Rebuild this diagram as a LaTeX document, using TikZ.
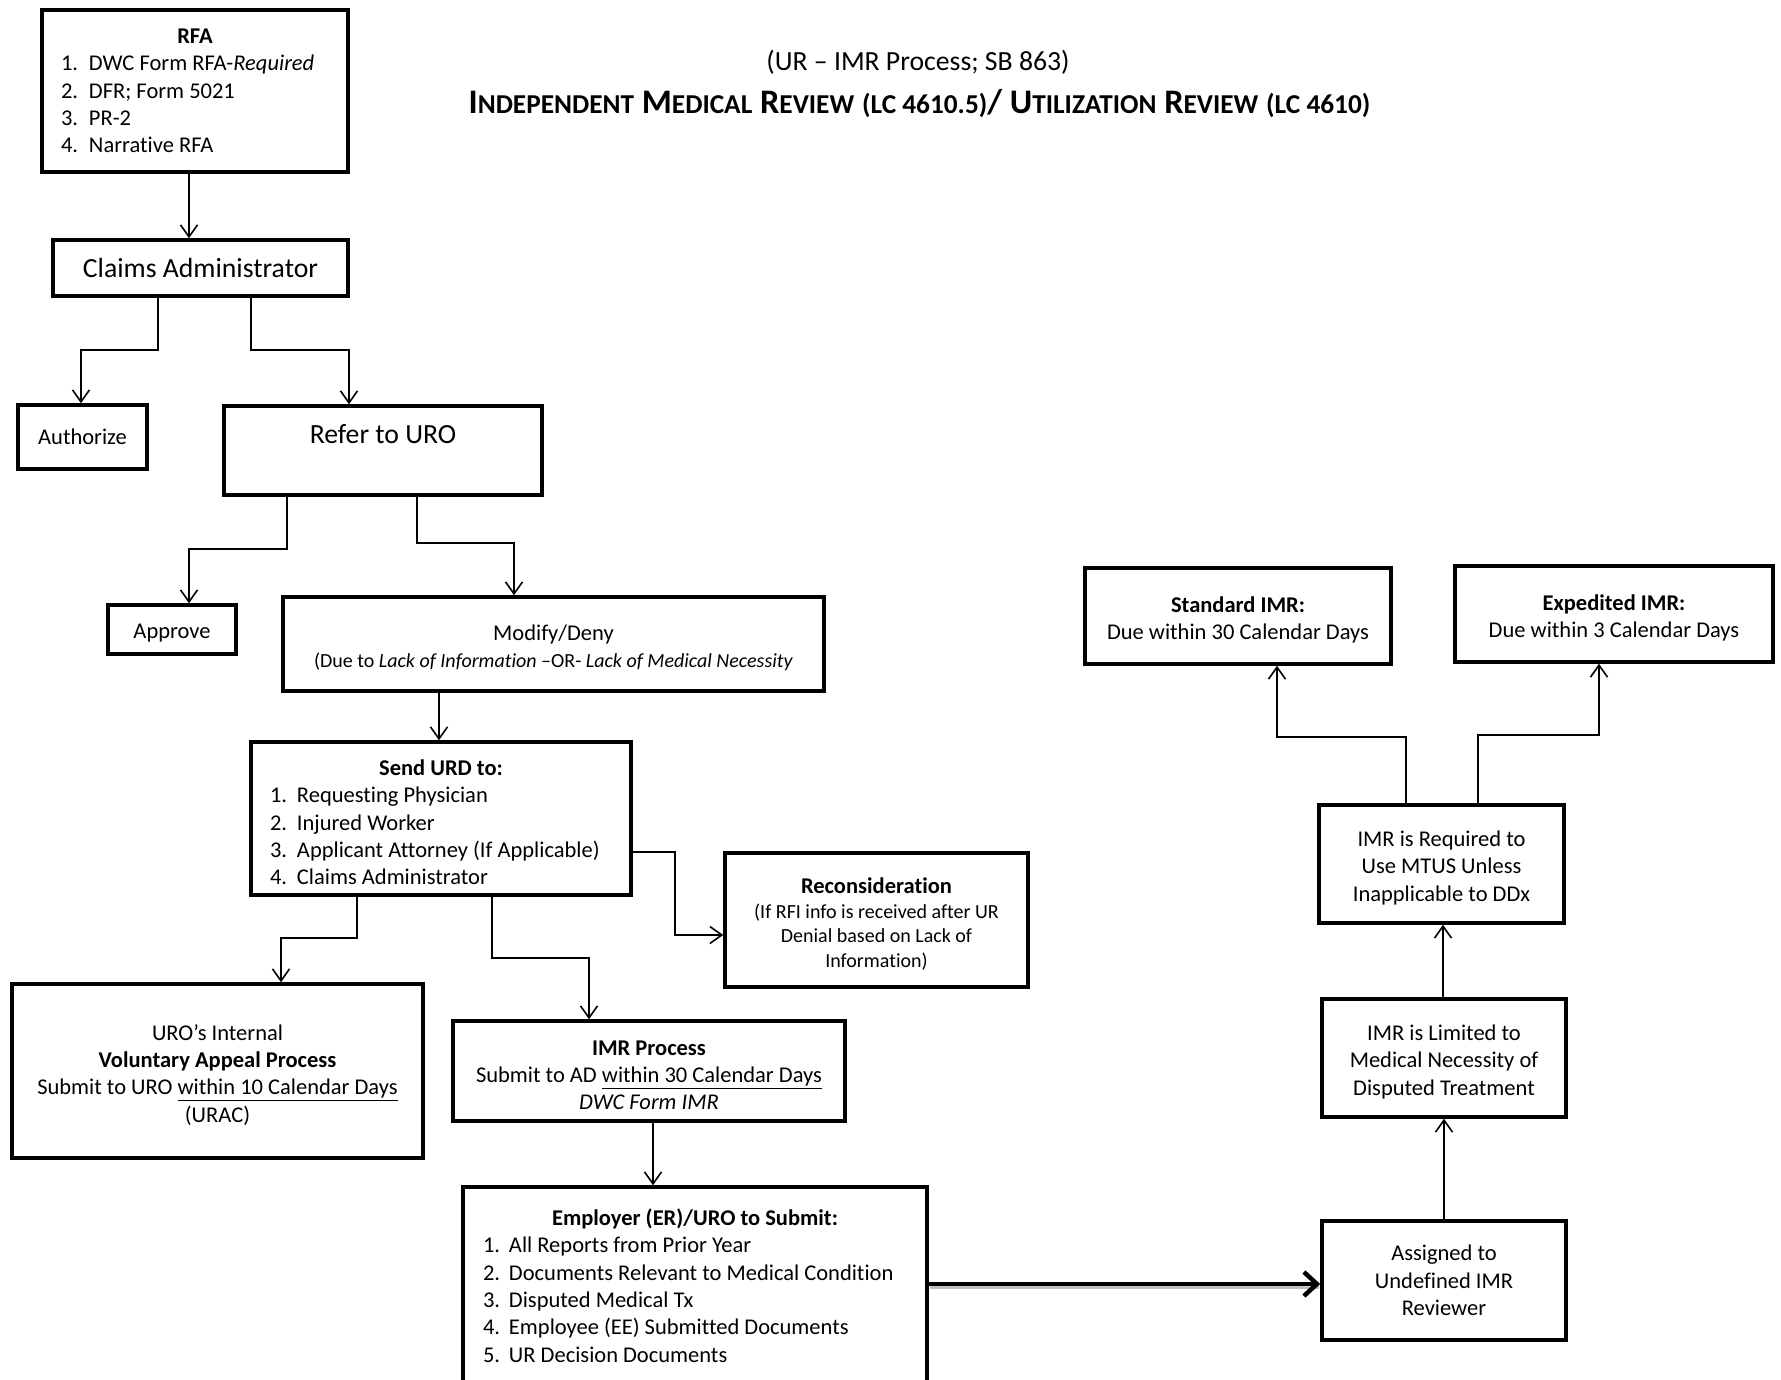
\documentclass[tikz,border=0pt]{standalone}
\usepackage{fontspec}
\setmainfont{Carlito}[Ligatures=NoCommon]
\usetikzlibrary{arrows.meta}
\newcommand{\numline}[4]{\makebox[#1][l]{\makebox[#2][l]{#3}#4}}
\newcommand{\smc}[1]{{\fontsize{27.3}{32}\selectfont #1}}
\newcommand{\lw}{\rule{0pt}{23.5pt}}
\tikzset{
  box/.style={draw, line width=3.5pt, inner sep=0pt, align=center, font=\fontsize{22.5}{27.3}\selectfont},
  conn/.style={line width=1.6pt, -{Straight Barb[length=12pt,width=17pt]}},
  thickconn/.style={line width=4.5pt, -{Straight Barb[length=13pt,width=24pt]}},
}
\begin{document}
\begin{tikzpicture}[x=1pt,y=-1pt]
\clip (0,0) rectangle (1781,1380);
\fill[white] (0,0) rectangle (1781,1380);

% titles
\node[font=\fontsize{27.7}{33}\selectfont] (t1) at (918,62) {(UR – IMR Process; SB 863)};
\node[font=\fontsize{34.4}{40}\selectfont\bfseries] (t2) at (919.5,104)
  {I\smc{NDEPENDENT} M\smc{EDICAL} R\smc{EVIEW} \smc{(LC 4610.5)}/ U\smc{TILIZATION} R\smc{EVIEW} \smc{(LC 4610)}};

% boxes
\node[box, minimum width=306pt, minimum height=162pt] (rfa) at (195,91)
  {\makebox[268pt][c]{\textbf{RFA}}\\
   \numline{268pt}{28pt}{1.}{DWC Form RFA-\textit{Required}}\\
   \numline{268pt}{28pt}{2.}{DFR; Form 5021}\\
   \numline{268pt}{28pt}{3.}{PR-2}\\
   \numline{268pt}{28pt}{4.}{Narrative RFA}};
\node[box, minimum width=295pt, minimum height=56pt, font=\fontsize{27.7}{33}\selectfont] (claims) at (200.5,268) {Claims Administrator};
\node[box, minimum width=129pt, minimum height=64pt] (auth) at (82.5,437) {Authorize};
\node[box, minimum width=318pt, minimum height=89pt, font=\fontsize{27.7}{33}\selectfont, text height=19pt, text depth=33pt] (refer) at (383,450.5) {Refer to URO};
\node[box, minimum width=128pt, minimum height=49pt] (approve) at (172,629.5) {\rule{0pt}{22.5pt}Approve};
\node[box, minimum width=541pt, minimum height=94pt] (modify) at (553.5,644)
  {\lw Modify/Deny\\ {\fontsize{20}{24}\selectfont (Due to \textit{Lack of Information} –OR- \textit{Lack of Medical Necessity}}};
\node[box, minimum width=380pt, minimum height=153pt] (send) at (441,818.5)
  {\lw\makebox[342pt][c]{\textbf{Send URD to:}}\\
   \numline{342pt}{27pt}{1.}{Requesting Physician}\\
   \numline{342pt}{27pt}{2.}{Injured Worker}\\
   \numline{342pt}{27pt}{3.}{Applicant Attorney (If Applicable)}\\
   \numline{342pt}{27pt}{4.}{Claims Administrator}};
\node[box, minimum width=303pt, minimum height=134pt, font=\fontsize{20}{24.5}\selectfont] (recon) at (876.5,920)
  {\lw{\fontsize{22.5}{24.5}\selectfont\textbf{Reconsideration}}\\
   (If RFI info is received after UR\\
   Denial based on Lack of\\
   Information)};
\node[box, minimum width=411pt, minimum height=174pt] (uro) at (217.5,1071)
  {\lw URO’s Internal\\
   \textbf{Voluntary Appeal Process}\\
   Submit to URO \underline{within 10 Calendar Days}\\
   (URAC)};
\node[box, minimum width=392pt, minimum height=100pt] (imr) at (649,1071)
  {\lw\textbf{IMR Process}\\
   Submit to AD \underline{within 30 Calendar Days}\\
   \textit{DWC Form IMR}};
\node[box, minimum width=464pt, minimum height=197pt] (emp) at (695,1285.5)
  {\makebox[424pt][c]{\textbf{Employer (ER)/URO to Submit:}}\\
   \numline{424pt}{26pt}{1.}{All Reports from Prior Year}\\
   \numline{424pt}{26pt}{2.}{Documents Relevant to Medical Condition}\\
   \numline{424pt}{26pt}{3.}{Disputed Medical Tx}\\
   \numline{424pt}{26pt}{4.}{Employee (EE) Submitted Documents}\\
   \numline{424pt}{26pt}{5.}{UR Decision Documents}};
\node[box, minimum width=244pt, minimum height=119pt] (assigned) at (1444,1280.5)
  {Assigned to\\ Undefined IMR\\ Reviewer};
\node[box, minimum width=244pt, minimum height=118pt] (limited) at (1444,1058)
  {\lw IMR is Limited to\\ Medical Necessity of\\ Disputed Treatment};
\node[box, minimum width=245pt, minimum height=118pt] (required) at (1441.5,864)
  {\lw IMR is Required to\\ Use MTUS Unless\\ Inapplicable to DDx};
\node[box, minimum width=306pt, minimum height=96pt] (standard) at (1238,616)
  {\lw\textbf{Standard IMR:}\\ Due within 30 Calendar Days};
\node[box, minimum width=318pt, minimum height=96pt] (exped) at (1614,614)
  {\lw\textbf{Expedited IMR:}\\ Due within 3 Calendar Days};

% connectors
\draw[conn] (rfa.south -| 189,0) -- (claims.north -| 189,0);
\draw[conn] (claims.south -| 158,0) |- (81,350) -- (auth.north -| 81,0);
\draw[conn] (claims.south -| 251,0) |- (349,350) -- (refer.north -| 349,0);
\draw[conn] (refer.south -| 287,0) |- (189,549) -- (approve.north -| 189,0);
\draw[conn] (refer.south -| 417,0) |- (514,543) -- (modify.north -| 514,0);
\draw[conn] (modify.south -| 439,0) -- (send.north -| 439,0);
\draw[conn] (send.east |- 0,852) -- (675,852) |- (recon.west |- 0,935);
\draw[conn] (send.south -| 357,0) |- (281,938) -- (uro.north -| 281,0);
\draw[conn] (send.south -| 492,0) |- (589,958) -- (imr.north -| 589,0);
\draw[conn] (imr.south -| 653,0) -- (emp.north -| 653,0);
\draw[line width=4.5pt, black!25, transform canvas={shift={(1.5pt,-3pt)}}] (emp.east |- 0,1284) -- ([xshift=-3pt]assigned.west |- 0,1284);
\draw[thickconn] (emp.east |- 0,1284) -- (assigned.west |- 0,1284);
\draw[conn] (assigned.north -| 1444,0) -- (limited.south -| 1444,0);
\draw[conn] (limited.north -| 1443,0) -- (required.south -| 1443,0);
\draw[conn] (required.north -| 1406,0) |- (1277,737) -- (standard.south -| 1277,0);
\draw[conn] (required.north -| 1478,0) |- (1599,735) -- (exped.south -| 1599,0);
\end{tikzpicture}
\end{document}
